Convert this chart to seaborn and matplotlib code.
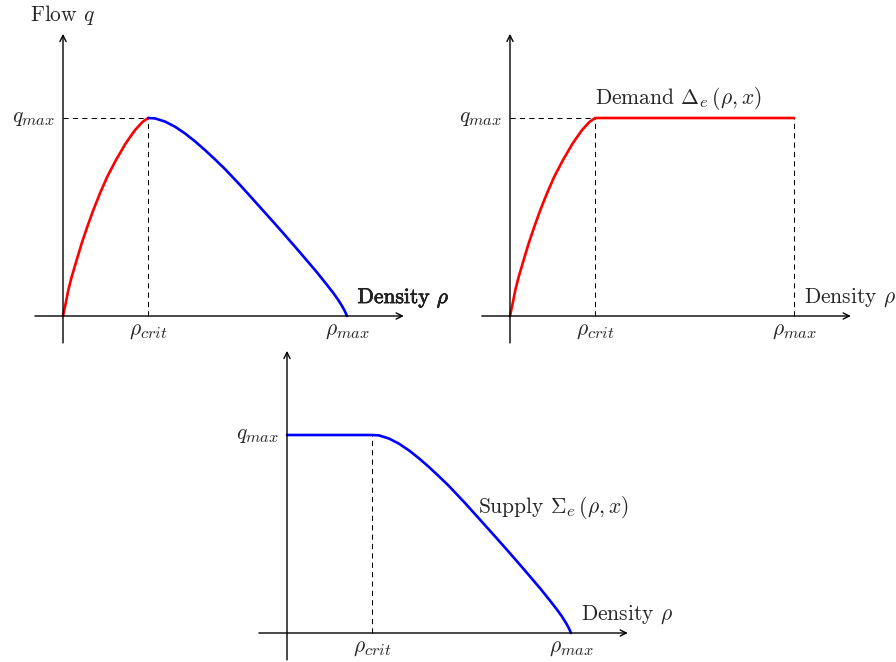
import numpy as np
import pandas as pd
import matplotlib
matplotlib.use("Agg")
import matplotlib.pyplot as plt
import matplotlib.patheffects as pe
import seaborn as sns

try:
    # TeX-like script size for sub/superscripts
    import matplotlib._mathtext as _mt
    _mt.SHRINK_FACTOR = 0.76
except Exception:
    pass

sns.set_style("white")
plt.rcParams["font.family"] = ["cmr10", "DejaVu Serif"]
plt.rcParams["mathtext.fontset"] = "cm"
plt.rcParams["axes.unicode_minus"] = False

# Normalised fundamental diagram: density in units of rho_max, flow in units of q_max
rho_crit = 0.30
rho_max = 1.0
q_max = 1.0

# free-flow (demand) branch, rising from 0 to q_max at rho_crit
free_rho = [0.0, 0.0095, 0.0187, 0.0306, 0.0482, 0.0658, 0.0856, 0.1067, 0.1303,
            0.156, 0.1866, 0.2208, 0.2535, 0.2806, 0.300]
free_q = [0.0, 0.064, 0.131, 0.198, 0.283, 0.367, 0.451, 0.535, 0.620,
          0.704, 0.788, 0.872, 0.939, 0.981, 1.0]

# congested (supply) branch, falling from q_max at rho_crit to 0 at rho_max
cong_rho = [0.300, 0.3239, 0.3592, 0.3944, 0.4296, 0.4648, 0.500, 0.5352, 0.5704,
            0.6232, 0.6585, 0.7405, 0.7757, 0.8345, 0.8933, 0.9285, 0.9518,
            0.9683, 0.9813, 0.9912, 0.9965, 1.0]
cong_q = [1.0, 0.998, 0.982, 0.956, 0.922, 0.882, 0.838, 0.791, 0.742,
          0.662, 0.606, 0.475, 0.418, 0.321, 0.222, 0.159, 0.116,
          0.083, 0.053, 0.028, 0.011, 0.0]

W, H = 896, 662
fig = plt.figure(figsize=(W / 100, H / 100), dpi=100)

PX_X = 284.0  # pixels per density unit
PX_Y = 198.0  # pixels per flow unit


def make_axes(ox, oy):
    """Axes whose data origin sits at pixel (ox, oy)."""
    left_px, right_px = ox - 45, ox + 385
    top_px, bot_px = oy - 295, oy + 35
    ax = fig.add_axes([left_px / W, 1 - bot_px / H,
                       (right_px - left_px) / W, (bot_px - top_px) / H])
    ax.set_xlim((left_px - ox) / PX_X, (right_px - ox) / PX_X)
    ax.set_ylim((oy - bot_px) / PX_Y, (oy - top_px) / PX_Y)
    ax.set_axis_off()
    return ax


def frame(ax):
    arrow = dict(arrowstyle="->", lw=1.0, color="black", shrinkA=0, shrinkB=0,
                 mutation_scale=11)
    ax.annotate("", xy=(1.20, 0), xytext=(-0.099, 0), arrowprops=arrow,
                annotation_clip=False)
    ax.annotate("", xy=(0, 1.425), xytext=(0, -0.136), arrowprops=arrow,
                annotation_clip=False)


DASH = dict(color="black", lw=0.75, ls=(0, (5, 4)))
FS = 15.5
RED = "#ff0000"
BLUE = "#0000ff"


def tick_labels(ax, with_q=True):
    ax.text(rho_crit, -0.076, r"$\rho_{crit}$", ha="center", va="center", fontsize=FS)
    ax.text(rho_max, -0.076, r"$\rho_{max}$", ha="center", va="center", fontsize=FS)
    if with_q:
        ax.text(-0.028, q_max, r"$q_{max}$", ha="right", va="center", fontsize=FS)


def curve(ax, x, y, color):
    df = pd.DataFrame({"rho": x, "q": y})
    sns.lineplot(data=df, x="rho", y="q", ax=ax, color=color, lw=1.9,
                 estimator=None, sort=False, legend=False)
    ax.set_xlabel("")
    ax.set_ylabel("")


# Panel 1: full fundamental diagram
ax1 = make_axes(63, 316)
frame(ax1)
ax1.plot([0, rho_crit], [q_max, q_max], **DASH)
ax1.plot([rho_crit, rho_crit], [0, q_max], **DASH)
curve(ax1, free_rho, free_q, RED)
curve(ax1, cong_rho, cong_q, BLUE)
tick_labels(ax1)
ax1.text(0.0, 1.52, r"Flow $q$", ha="center", va="center", fontsize=FS)
ax1.text(1.037, 0.09, r"Density $\rho$", ha="left", va="center", fontsize=FS,
         path_effects=[pe.withStroke(linewidth=0.5, foreground="black")])
ax1.set_axis_off()

# Panel 2: demand function
ax2 = make_axes(510, 316)
frame(ax2)
ax2.plot([0, rho_crit], [q_max, q_max], **DASH)
ax2.plot([rho_crit, rho_crit], [0, q_max], **DASH)
ax2.plot([rho_max, rho_max], [0, q_max], **DASH)
curve(ax2, free_rho + [rho_max], free_q + [q_max], RED)
tick_labels(ax2)
ax2.text(0.30, 1.10, r"Demand $\Delta_e\,(\rho, x)$", ha="left", va="center", fontsize=FS)
ax2.text(1.035, 0.09, r"Density $\rho$", ha="left", va="center", fontsize=FS)
ax2.set_axis_off()

# Panel 3: supply function
ax3 = make_axes(287, 633)
frame(ax3)
ax3.plot([rho_crit, rho_crit], [0, q_max], **DASH)
curve(ax3, [0.0] + cong_rho, [q_max] + cong_q, BLUE)
tick_labels(ax3)
ax3.text(0.672, 0.636, r"Supply $\Sigma_e\,(\rho, x)$", ha="left", va="center", fontsize=FS)
ax3.text(1.035, 0.09, r"Density $\rho$", ha="left", va="center", fontsize=FS)
ax3.set_axis_off()

fig.savefig("out.png", dpi=100, facecolor="white")
